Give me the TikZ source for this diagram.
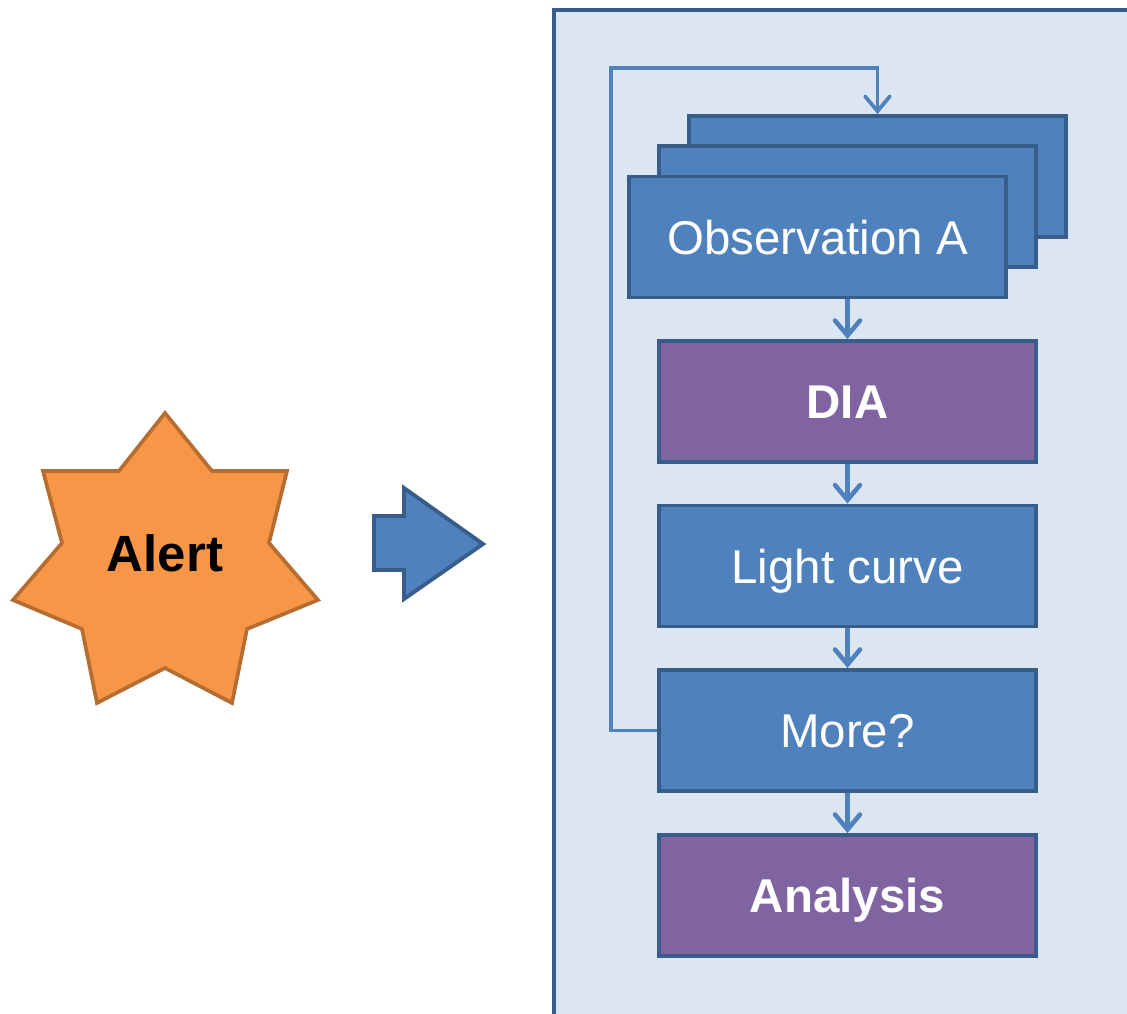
\documentclass[tikz,border=0pt]{standalone}
\usepackage{fontspec}
\setmainfont{Liberation Sans}
\usetikzlibrary{arrows.meta}

\definecolor{boxblue}{HTML}{4F81BD}
\definecolor{boxedge}{HTML}{385D8A}
\definecolor{boxpurple}{HTML}{8064A2}
\definecolor{panelbg}{HTML}{DCE6F2}
\definecolor{starfill}{HTML}{F79646}
\definecolor{staredge}{HTML}{B66D31}

\begin{document}
\begin{tikzpicture}[x=0.02cm, y=-0.02cm]
    % Khung trang theo kích thước ảnh gốc
    \useasboundingbox (0,0) rectangle (1127,1014);
    \clip (0,0) rectangle (1127,1014);

    % Định nghĩa kiểu hộp và mũi tên
    \tikzset{
        c_box/.style={draw=boxedge, fill=boxblue, line width=2.2pt,
            minimum width=7.54cm, minimum height=2.42cm, inner sep=0pt,
            text height=19.5pt, text depth=0pt,
            text=white, font=\fontsize{27}{30}\selectfont},
        c_step/.style={c_box, fill=boxpurple, font=\fontsize{27}{30}\selectfont\bfseries},
        c_flow/.style={draw=boxblue, line width=2.6pt,
            -{Straight Barb[length=0.3cm, width=0.5cm, line cap=round]}},
        c_loop/.style={c_flow, line width=2.1pt}
    }

    % Nền khung bên phải
    \draw[draw=boxedge, fill=panelbg, line width=2.2pt] (554,10) rectangle (1150,1040);

    % Ngôi sao cảnh báo (7 cánh)
    \draw[draw=staredge, fill=starfill, line width=2.1pt]
        (165,413) -- (212,471) -- (287,471) -- (269,543) -- (318,600)
        -- (247,629) -- (232,703) -- (165,668) -- (97,703) -- (82,629)
        -- (13,600) -- (62,543) -- (43,471) -- (119,471) -- cycle;
    \node[font=\fontsize{29}{32}\selectfont\bfseries] (alert) at (165,553) {Alert};

    % Mũi tên khối
    \draw[draw=boxedge, fill=boxblue, line width=2.2pt]
        (374,516) -- (404,516) -- (404,488) -- (483,544) -- (404,599)
        -- (404,570) -- (374,570) -- cycle;

    % Ba hộp quan sát chồng lên nhau
    \node[c_box] (obsC) at (877.5,176.5) {};
    \node[c_box] (obsB) at (847.5,206.5) {};
    \node[c_box] (obsA) at (817.5,237) {Observation A};

    % Các bước xử lý
    \node[c_step] (dia) at (847.5,401.5) {DIA};
    \node[c_box] (lc) at (847.5,566) {Light curve};
    \node[c_box] (more) at (847.5,730.5) {More?};
    \node[c_step] (ana) at (847.5,895.5) {Analysis};

    % Mũi tên nối các bước
    \draw[c_flow] (dia.north |- obsA.south) -- (dia.north);
    \foreach \a/\b in {dia/lc, lc/more, more/ana} {
        \draw[c_flow] (\a.south) -- (\b.north);
    }

    % Vòng lặp quay lại
    \coordinate (loopTop) at (611,68);
    \draw[c_loop] (more.west) -| (loopTop) -| (obsC.north);
\end{tikzpicture}
\end{document}
